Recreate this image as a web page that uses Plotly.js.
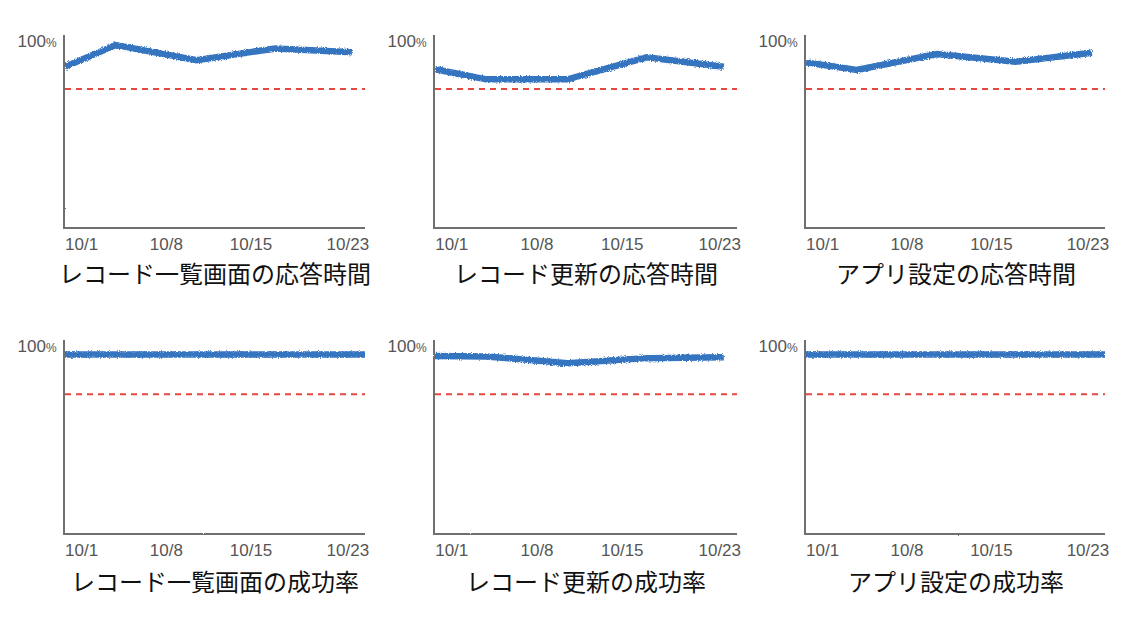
<!DOCTYPE html>
<html>
<head>
<meta charset="utf-8">
<script src="https://cdn.plot.ly/plotly-3.0.1.min.js"></script>
<style>
  html, body { margin: 0; padding: 0; background: #fff; }
  #chart { width: 1146px; height: 619px; }
  /* pencil-like texture for data lines and axes */
  #chart .scatterlayer path.js-line { filter: url(#rough); }
  #chart path.xlines-above, #chart path.ylines-above,
  #chart path.xlines-below, #chart path.ylines-below { filter: url(#roughAxis); }
</style>
</head>
<body>
<svg width="0" height="0" style="position:absolute">
  <filter id="rough" filterUnits="userSpaceOnUse" x="-500" y="-500" width="3000" height="2000">
    <feTurbulence type="fractalNoise" baseFrequency="0.9" numOctaves="2" seed="3" result="n"/>
    <feDisplacementMap in="SourceGraphic" in2="n" scale="3.5" xChannelSelector="R" yChannelSelector="G"/>
  </filter>
  <filter id="roughAxis" filterUnits="userSpaceOnUse" x="-500" y="-500" width="3000" height="2000">
    <feTurbulence type="fractalNoise" baseFrequency="1.4" numOctaves="1" seed="7" result="n"/>
    <feDisplacementMap in="SourceGraphic" in2="n" scale="1.6" xChannelSelector="R" yChannelSelector="G"/>
  </filter>
</svg>
<div id="chart"></div>
<script>
// ---- data ----
const titles = [
  "レコード一覧画面の応答時間", "レコード更新の応答時間", "アプリ設定の応答時間",
  "レコード一覧画面の成功率", "レコード更新の成功率", "アプリ設定の成功率"
];

const dates = ["2023-09-29 15:00", "2023-10-03 20:00", "2023-10-10 12:00", "2023-10-17 00:00", "2023-10-23 08:00"];
const datesFull = ["2023-09-29 15:00", "2023-10-03 20:00", "2023-10-10 12:00", "2023-10-17 00:00", "2023-10-24 10:00"];

const rtList   = [86.0, 97.6, 89.5, 95.8, 93.7];
const rtUpdate = [84.6, 79.2, 79.2, 91.0, 86.0];
const rtApp    = [88.3, 84.2, 92.8, 88.6, 93.5];
const srList   = [95.3, 95.3, 95.2, 95.3, 95.3];
const srUpdate = [94.5, 94.2, 90.6, 93.3, 93.8];
const srApp    = [95.3, 95.3, 95.3, 95.2, 95.3];

const thresholds = [74, 74, 74, 74, 74, 74];

const xTickVals = ["2023-10-01", "2023-10-08", "2023-10-15", "2023-10-23"];
const xTickText = ["10/1", "10/8", "10/15", "10/23"];
const yTickVals = [100];
const yTickText = ["100<span style='font-size:12px'>%</span>"];

const xRange = ["2023-09-29 15:00", "2023-10-24 10:00"];
const yRange = [0, 103];

// ---- layout helpers ----
const W = 1146, H = 619;
const colPx = [[65, 365], [435, 737], [806, 1105]];
const rowPx = [[35, 227], [340, 532.5]];
const titleY = [272, 580];

const seriesX = [dates, dates, dates, datesFull, dates, datesFull];
const seriesY = [rtList, rtUpdate, rtApp, srList, srUpdate, srApp];

const traces = [];
const shapes = [];
const annotations = [];
const layout = {
  width: W, height: H, autosize: false,
  margin: { l: 0, r: 0, t: 0, b: 0 },
  paper_bgcolor: "#fff", plot_bgcolor: "#fff",
  showlegend: false,
  font: { family: "Liberation Sans, Arial, sans-serif", color: "#555", size: 17 }
};

for (let i = 0; i < 6; i++) {
  const r = Math.floor(i / 3), c = i % 3;
  const n = i === 0 ? "" : String(i + 1);
  const xa = "x" + n, ya = "y" + n;

  layout["xaxis" + n] = {
    type: "date",
    domain: [colPx[c][0] / W, colPx[c][1] / W],
    anchor: ya,
    range: xRange,
    tickvals: xTickVals, ticktext: xTickText,
    ticks: "", ticklabelstandoff: 1,
    showgrid: false, zeroline: false,
    showline: true, linecolor: "#707070", linewidth: 2,
    tickfont: { size: 17, color: "#555" },
    fixedrange: true
  };
  layout["yaxis" + n] = {
    domain: [1 - rowPx[r][1] / H, 1 - rowPx[r][0] / H],
    anchor: xa,
    range: yRange,
    tickvals: yTickVals, ticktext: yTickText,
    ticks: "", ticklabelstandoff: 3,
    showgrid: false, zeroline: false,
    showline: true, linecolor: "#707070", linewidth: 2,
    tickfont: { size: 17, color: "#555" },
    fixedrange: true
  };

  traces.push({
    x: seriesX[i], y: seriesY[i],
    xaxis: xa, yaxis: ya,
    type: "scatter", mode: "lines",
    line: { color: "#3574c0", width: 6.5 },
    hoverinfo: "skip"
  });

  shapes.push({
    type: "line",
    xref: xa + " domain", yref: ya,
    x0: 0, x1: 1, y0: thresholds[i], y1: thresholds[i],
    line: { color: "#e5483c", width: 2, dash: "6px,5px" }
  });

  annotations.push({
    text: titles[i],
    xref: "paper", yref: "paper",
    x: (colPx[c][0] + colPx[c][1]) / 2 / W,
    y: 1 - titleY[r] / H,
    xanchor: "center", yanchor: "middle",
    showarrow: false, borderpad: 0,
    font: { family: "Noto Sans CJK JP, sans-serif", size: 24, color: "#111" }
  });
}

layout.shapes = shapes;
layout.annotations = annotations;

Plotly.newPlot("chart", traces, layout, { displayModeBar: false, staticPlot: true });
</script>
</body>
</html>
